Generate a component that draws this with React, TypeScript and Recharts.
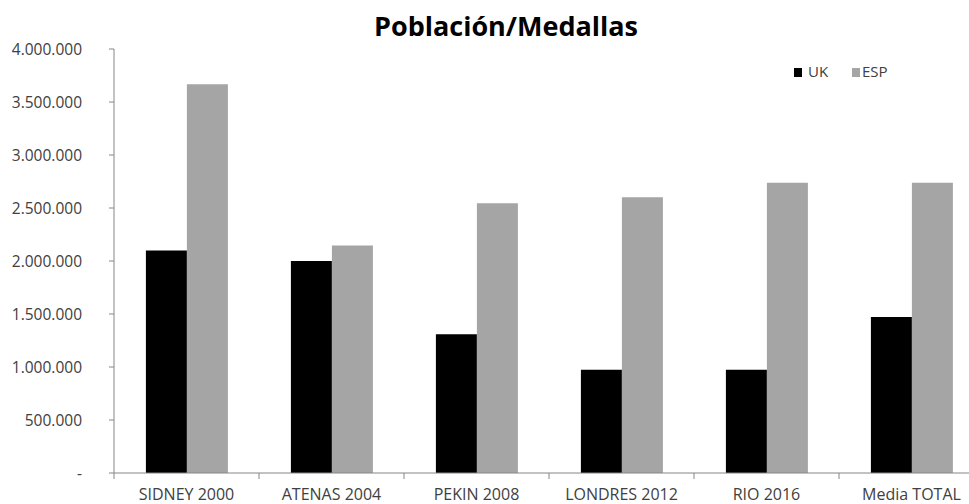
import React from 'react';
import { BarChart, Bar, XAxis, YAxis } from 'recharts';

const categories = ['SIDNEY 2000', 'ATENAS 2004', 'PEKIN 2008', 'LONDRES 2012', 'RIO 2016', 'Media TOTAL'];
const ukValues = [2100000, 2000000, 1310000, 975000, 975000, 1472000];
const espValues = [3667000, 2146000, 2544000, 2601000, 2739000, 2739000];
const yTicks = [0, 500000, 1000000, 1500000, 2000000, 2500000, 3000000, 3500000, 4000000];

const FONT = '"Open Sans", sans-serif';
const AXIS = '#868686';
const TEXT = '#404040';

const data = categories.map((name, i) => ({ name, uk: ukValues[i], esp: espValues[i] }));

const fmt = (v: number) => (v === 0 ? '-' : String(v).replace(/\B(?=(\d{3})+(?!\d))/g, '.'));

const CategoryTick = (props: any) => {
  const { x, y, payload } = props;
  const half = payload && payload.offset ? payload.offset : 72.5;
  const axisY = y - 16;
  return (
    <g>
      <line x1={x - half} x2={x - half} y1={axisY} y2={axisY + 6} stroke={AXIS} />
      <text x={x} y={y} dy="0.71em" textAnchor="middle" fill={TEXT} fontFamily={FONT} fontSize={16}>
        {payload.value}
      </text>
    </g>
  );
};

export default function App() {
  return (
    <div style={{ position: 'absolute', left: 0, top: 0, width: 969, height: 504, overflow: 'hidden', background: '#fff' }}>
      <BarChart
        width={1000}
        height={504}
        data={data}
        margin={{ top: 49, right: 16, bottom: 0, left: 0 }}
        barCategoryGap="22%"
        barGap={0}
      >
        <XAxis
          dataKey="name"
          height={31}
          interval={0}
          tickSize={0}
          tickMargin={16}
          axisLine={{ stroke: AXIS }}
          tick={<CategoryTick />}
        />
        <YAxis
          width={114}
          domain={[0, 4000000]}
          ticks={yTicks}
          interval={0}
          tickSize={5}
          tickMargin={27}
          tickFormatter={fmt}
          axisLine={{ stroke: AXIS }}
          tickLine={{ stroke: AXIS }}
          tick={{ fill: TEXT, fontFamily: FONT, fontSize: 15.5 }}
        />
        <Bar dataKey="uk" name="UK" fill="#000000" isAnimationActive={false} />
        <Bar dataKey="esp" name="ESP" fill="#a5a5a5" isAnimationActive={false} />
      </BarChart>
      <svg width={969} height={504} style={{ position: 'absolute', left: 0, top: 0, pointerEvents: 'none' }}>
        <text x={506} y={36} textAnchor="middle" fontFamily={FONT} fontWeight="bold" fontSize={27} fill="#000">
          Población/Medallas
        </text>
        <rect x={794} y={68} width={8} height={9} fill="#000000" />
        <text x={808} y={77} fontFamily={FONT} fontSize={15} fill={TEXT}>UK</text>
        <rect x={852} y={68} width={8} height={9} fill="#a5a5a5" />
        <text x={862} y={77} fontFamily={FONT} fontSize={15} fill={TEXT}>ESP</text>
      </svg>
    </div>
  );
}
